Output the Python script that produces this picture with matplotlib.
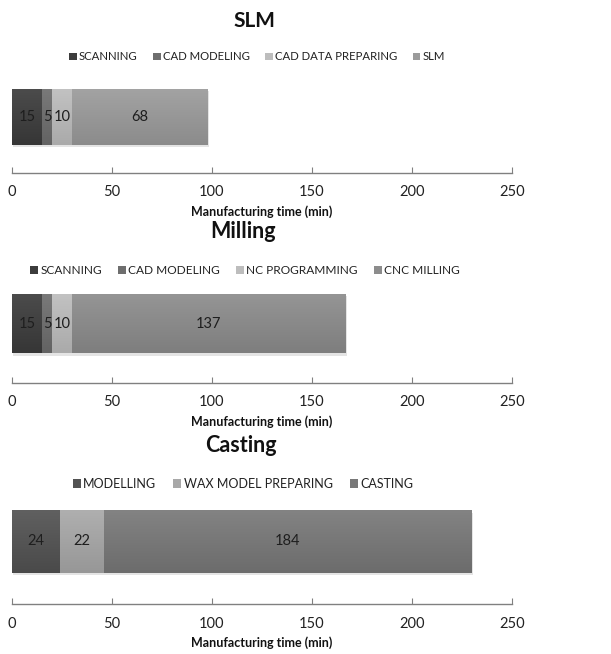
import matplotlib
matplotlib.use("Agg")
import matplotlib.pyplot as plt
import matplotlib.transforms as mtransforms
import numpy as np
from matplotlib.patches import Patch
from matplotlib.colors import to_rgb

plt.rcParams['font.family'] = ['Lato', 'DejaVu Sans']

# Process times per manufacturing route (minutes)
slm_steps = ["SCANNING", "CAD MODELING", "CAD DATA PREPARING", "SLM"]
slm_times = [15, 5, 10, 68]
slm_colors = ["#3c3c3c", "#6e6e6e", "#bdbdbd", "#9b9b9b"]

milling_steps = ["SCANNING", "CAD MODELING", "NC PROGRAMMING", "CNC MILLING"]
milling_times = [15, 5, 10, 137]
milling_colors = ["#3c3c3c", "#6e6e6e", "#bdbdbd", "#8c8c8c"]

casting_steps = ["MODELLING", "WAX MODEL PREPARING", "CASTING"]
casting_times = [24, 22, 184]
casting_colors = ["#525252", "#a8a8a8", "#787878"]

x_ticks = [0, 50, 100, 150, 200, 250]
x_label = "Manufacturing time (min)"

W, H = 611, 654
fig = plt.figure(figsize=(W / 100, H / 100), dpi=100)
fig.patch.set_facecolor("white")


def shade(c, f):
    r = np.array(to_rgb(c))
    if f >= 0:
        return r + (1 - r) * f
    return r * (1 + f)


def panel(title, steps, times, colors, top_px, bottom_px, title_y, title_x,
          title_size, legend_y, legend_x, legend_size):
    left_px, right_px = 12, 512
    ax = fig.add_axes([left_px / W, 1 - bottom_px / H,
                       (right_px - left_px) / W, (bottom_px - top_px) / H])
    shadow = ax.transData + mtransforms.ScaledTranslation(
        1 / 100, -2.5 / 100, fig.dpi_scale_trans)
    left = 0
    for t, c in zip(times, colors):
        # soft drop shadow under the bar
        ax.barh(0, t, left=left, height=0.6, color="#e4e4e4", zorder=1,
                transform=shadow)
        bars = ax.barh(0, t, left=left, height=0.6, color=c, zorder=2,
                       edgecolor="none")
        # gentle vertical gradient inside each segment
        grad = np.linspace(0, 1, 64)[:, None, None]
        img = shade(c, 0.08)[None, None, :] * (1 - grad) + shade(c, -0.10)[None, None, :] * grad
        im = ax.imshow(img, extent=(left, left + t, -0.3, 0.3), origin="upper",
                       aspect="auto", zorder=3)
        im.set_clip_path(bars.patches[0])
        ax.text(left + t / 2, 0, str(t), ha="center", va="center",
                fontsize=10.5, color="#1e1e1e", zorder=4)
        left += t
    ax.set_ylim(-0.6, 0.33)
    ax.set_xlim(0, 250)
    ax.set_yticks([])
    for s in ["top", "right", "left"]:
        ax.spines[s].set_visible(False)
    ax.spines["bottom"].set_color("#808080")
    ax.spines["bottom"].set_linewidth(1.0)
    ax.set_xticks(x_ticks)
    ax.tick_params(axis="x", direction="in", length=4, color="#808080",
                   labelsize=10.5, labelcolor="#222222", pad=9)
    ax.set_xlabel(x_label, fontsize=9, fontweight="bold", labelpad=4,
                  color="#111111")
    ax.set_facecolor("none")

    fig.text(title_x / W, 1 - title_y / H, title, ha="center", va="center",
             fontsize=title_size, fontweight="bold", color="#111111")
    handles = [Patch(facecolor=c, edgecolor="none", label=n)
               for n, c in zip(steps, colors)]
    fig.legend(handles=handles, loc="center",
               bbox_to_anchor=(legend_x / W, 1 - legend_y / H),
               ncol=len(steps), frameon=False, fontsize=legend_size,
               handlelength=0.65, handleheight=0.65, handletextpad=0.2,
               columnspacing=1.35, labelcolor="#222222")


panel("SLM", slm_steps, slm_times, slm_colors, 86, 173,
      title_y=21, title_x=254, title_size=15,
      legend_y=57, legend_x=257, legend_size=8.2)
panel("Milling", milling_steps, milling_times, milling_colors, 291, 383,
      title_y=231, title_x=243, title_size=15.5,
      legend_y=271, legend_x=245, legend_size=8.6)
panel("Casting", casting_steps, casting_times, casting_colors, 507, 604,
      title_y=445, title_x=241, title_size=15.5,
      legend_y=484, legend_x=243, legend_size=9.0)

fig.savefig("out.png", dpi=100, facecolor="white")
